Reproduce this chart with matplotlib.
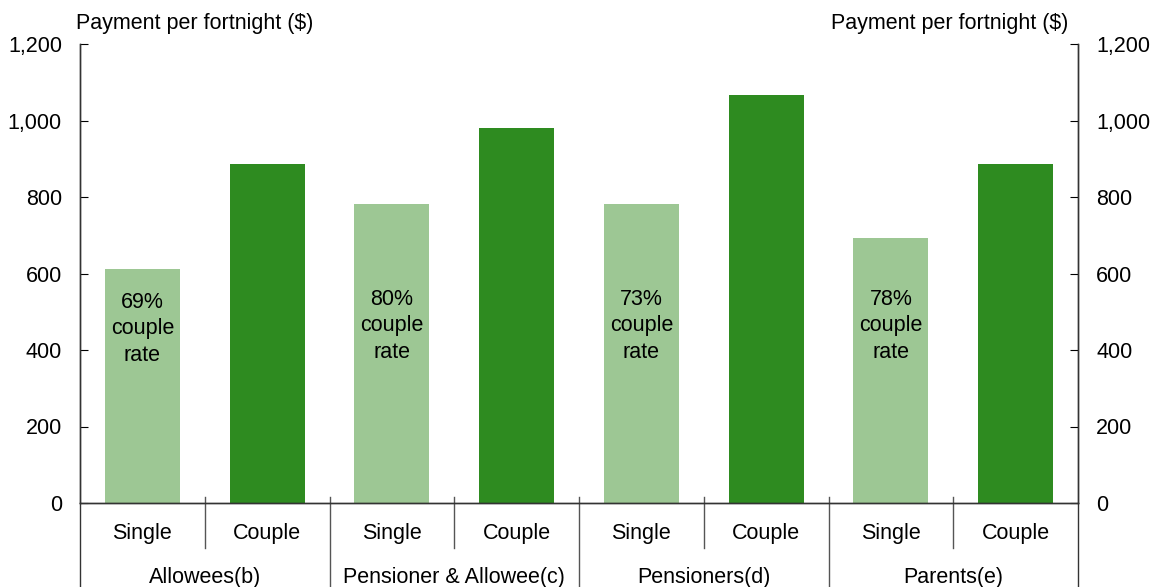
import numpy as np
import matplotlib.pyplot as plt
from matplotlib.transforms import blended_transform_factory

plt.rcParams['font.family'] = ['Liberation Sans', 'DejaVu Sans']

groups = ['Allowees(b)', 'Pensioner & Allowee(c)', 'Pensioners(d)', 'Parents(e)']
kinds = ['Single', 'Couple']
single = [612, 782, 782, 692]
couple = [886, 980, 1066, 886]
share_labels = ['69%', '80%', '73%', '78%']

light = '#9dc794'
dark = '#2e8b20'
fs = 15.5

W, H = 1151, 587
fig = plt.figure(figsize=(W / 100, H / 100), dpi=100)
ax = fig.add_axes([80 / W, 1 - 503 / H, 998 / W, 459 / H])

n = len(groups)
xs_single = np.arange(n) * 2
xs_couple = xs_single + 1
ax.bar(xs_single, single, width=0.6, color=light, zorder=2)
ax.bar(xs_couple, couple, width=0.6, color=dark, zorder=2)

for i, (x, lab) in enumerate(zip(xs_single, share_labels)):
    ax.text(x, 455 if i == 0 else 463, lab + '\ncouple\nrate', ha='center',
            va='center', fontsize=fs, linespacing=1.36, zorder=3)

ax.set_xlim(-0.5, 2 * n - 0.5)
ax.set_ylim(0, 1200)
ax.set_yticks(range(0, 1201, 200))
ax.set_yticklabels([f'{v:,}' for v in range(0, 1201, 200)])
ax.set_xticks([])
ax.tick_params(axis='y', direction='in', length=6, labelsize=fs, pad=13)

ax2 = ax.twinx()
ax2.set_ylim(0, 1200)
ax2.set_yticks(range(0, 1201, 200))
ax2.set_yticklabels([f'{v:,}' for v in range(0, 1201, 200)])
ax2.tick_params(axis='y', direction='in', length=6, labelsize=fs, pad=13)

for a in (ax, ax2):
    a.spines['top'].set_visible(False)
    for sp in ('left', 'right', 'bottom'):
        a.spines[sp].set_color('#333333')
        a.spines[sp].set_linewidth(1.0)

ax.text(-0.004, 1 + 20 / 459, 'Payment per fortnight ($)', transform=ax.transAxes,
        ha='left', va='center', fontsize=fs)
ax.text(1 - 10 / 998, 1 + 20 / 459, 'Payment per fortnight ($)', transform=ax.transAxes,
        ha='right', va='center', fontsize=fs)

# two-level category labels below the axis
trans = blended_transform_factory(ax.transData, ax.transAxes)
px = 1 / 459
for i, g in enumerate(groups):
    for j, k in enumerate(kinds):
        ax.text(2 * i + j, -30 * px, k, transform=trans, ha='center',
                va='center', fontsize=fs)
    ax.text(2 * i + 0.5, -74 * px, g, transform=trans, ha='center',
            va='center', fontsize=fs)
    # divider inside the group
    ax.plot([2 * i + 0.5] * 2, [6 * px, -45 * px], transform=trans,
            color='#555555', lw=1, clip_on=False)
    # divider between groups
    if i > 0:
        ax.plot([2 * i - 0.5] * 2, [6 * px, -90 * px], transform=trans,
                color='#555555', lw=1, clip_on=False)
for xe in (-0.5, 2 * n - 0.5):
    ax.plot([xe] * 2, [0, -90 * px], transform=trans,
            color='#333333', lw=1, clip_on=False)

fig.savefig('out.png', dpi=100)
